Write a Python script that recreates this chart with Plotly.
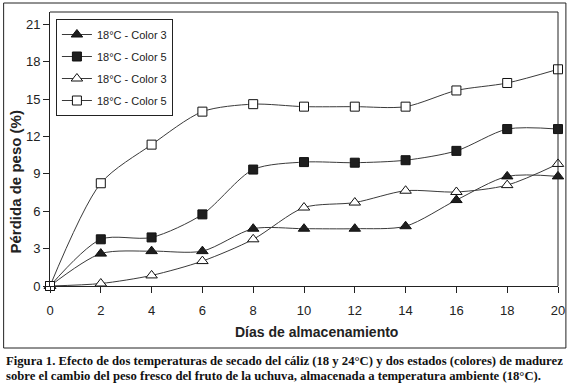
import plotly.graph_objects as go

dias = [0, 2, 4, 6, 8, 10, 12, 14, 16, 18, 20]
s1_nombre = "18°C - Color 3"
s1 = [0, 2.6, 2.8, 2.8, 4.6, 4.6, 4.6, 4.8, 6.9, 8.8, 8.8]
s2_nombre = "18°C - Color 5"
s2 = [0, 3.75, 3.9, 5.75, 9.35, 9.95, 9.9, 10.1, 10.85, 12.6, 12.6]
s3_nombre = "18°C - Color 3"
s3 = [0, 0.2, 0.85, 2.0, 3.75, 6.3, 6.7, 7.65, 7.55, 8.1, 9.8]
s4_nombre = "18°C - Color 5"
s4 = [0, 8.25, 11.35, 14.0, 14.6, 14.4, 14.4, 14.4, 15.7, 16.3, 17.4]

y_ticks = [0, 3, 6, 9, 12, 15, 18, 21]
x_ticks = dias

titulo_y = "Pérdida de peso (%)"
titulo_x = "Días de almacenamiento"
leyenda_1 = "Figura 1. Efecto de dos temperaturas de secado del cáliz (18 y 24°C) y dos estados (colores) de madurez"
leyenda_2 = "sobre el cambio del peso fresco del fruto de la uchuva, almacenada a temperatura ambiente (18°C)."

FONT = "Liberation Sans, Arial, sans-serif"
SERIF = "Liberation Serif, Times New Roman, serif"
LINE = "#3a3a3a"
DARK = "#1e1e1e"

fig = go.Figure()
series = [
    (s1, s1_nombre, "triangle-up", DARK, 10),
    (s2, s2_nombre, "square", DARK, 9),
    (s3, s3_nombre, "triangle-up", "white", 10),
    (s4, s4_nombre, "square", "white", 9),
]
for i, (vals, name, sym, fill, size) in enumerate(series):
    fig.add_trace(go.Scatter(
        x=dias, y=vals, name=name, mode="lines+markers",
        line=dict(color=LINE, width=1, shape="spline", smoothing=0.8),
        marker=dict(symbol=sym, size=size, color=fill,
                    line=dict(color="#111111", width=1)),
        cliponaxis=False, legendgroup=f"g{i}",
    ))

L, R, T, B = 50, 10, 12, 97
W, H = 575, 383
pw = W - L - R
ph = H - T - B

def px(xp):
    return (xp - L) / pw

def py(yp):
    return (H - B - yp) / ph

fig.update_layout(
    width=W, height=H,
    margin=dict(l=L, r=R, t=T, b=B, pad=0),
    paper_bgcolor="white", plot_bgcolor="white",
    font=dict(family=FONT, color="#222222", size=13),
    showlegend=True,
    legend=dict(
        x=px(56), y=py(19), xanchor="left", yanchor="top",
        bgcolor="white", bordercolor="#222222", borderwidth=1,
        font=dict(family=FONT, size=11, color="#222222"),
        traceorder="grouped", tracegroupgap=3,
        itemwidth=30,
    ),
    xaxis=dict(
        range=[0, 20], tickvals=x_ticks, ticks="outside", ticklen=6,
        tickcolor="#222222", showline=True, linecolor="#222222", linewidth=1,
        mirror=False, showgrid=False, zeroline=False, ticklabelstandoff=6,
        tickfont=dict(size=13, family=FONT, color="#222222"),
    ),
    yaxis=dict(
        range=[0, 22], tickvals=y_ticks, ticks="outside", ticklen=6,
        tickcolor="#222222", showline=True, linecolor="#222222", linewidth=1,
        showgrid=False, zeroline=False,
        tickfont=dict(size=13, family=FONT, color="#222222"),
    ),
    shapes=[
        dict(type="line", xref="paper", yref="paper", x0=0, x1=1, y0=1, y1=1,
             line=dict(color="#222222", width=1)),
        dict(type="line", xref="paper", yref="paper", x0=1, x1=1, y0=0, y1=1,
             line=dict(color="#222222", width=1)),
        dict(type="rect", xref="paper", yref="paper", x0=px(3), x1=px(573),
             y0=py(348), y1=py(3), line=dict(color="#222222", width=1)),
    ],
    annotations=[
        dict(text=f"<b>{titulo_x}</b>", xref="paper", yref="paper",
             x=px(320), y=py(332), xanchor="center", yanchor="middle", showarrow=False,
             font=dict(family=FONT, size=14, color="#222222")),
        dict(text=f"<b>{titulo_y}</b>", xref="paper", yref="paper", textangle=-90,
             x=px(15), y=py(182), xanchor="center", yanchor="middle", showarrow=False,
             font=dict(family=FONT, size=15, color="#222222")),
        dict(text=f"<b>{leyenda_1}</b>", xref="paper", yref="paper",
             x=px(3), y=py(361), xanchor="left", yanchor="middle", showarrow=False,
             font=dict(family=SERIF, size=12.7, color="#111111")),
        dict(text=f"<b>{leyenda_2}</b>", xref="paper", yref="paper",
             x=px(3), y=py(376), xanchor="left", yanchor="middle", showarrow=False,
             font=dict(family=SERIF, size=12.7, color="#111111")),
    ],
)

fig.write_html("out.html", config={"displayModeBar": False},
               post_script="document.body.style.margin='0px';")
